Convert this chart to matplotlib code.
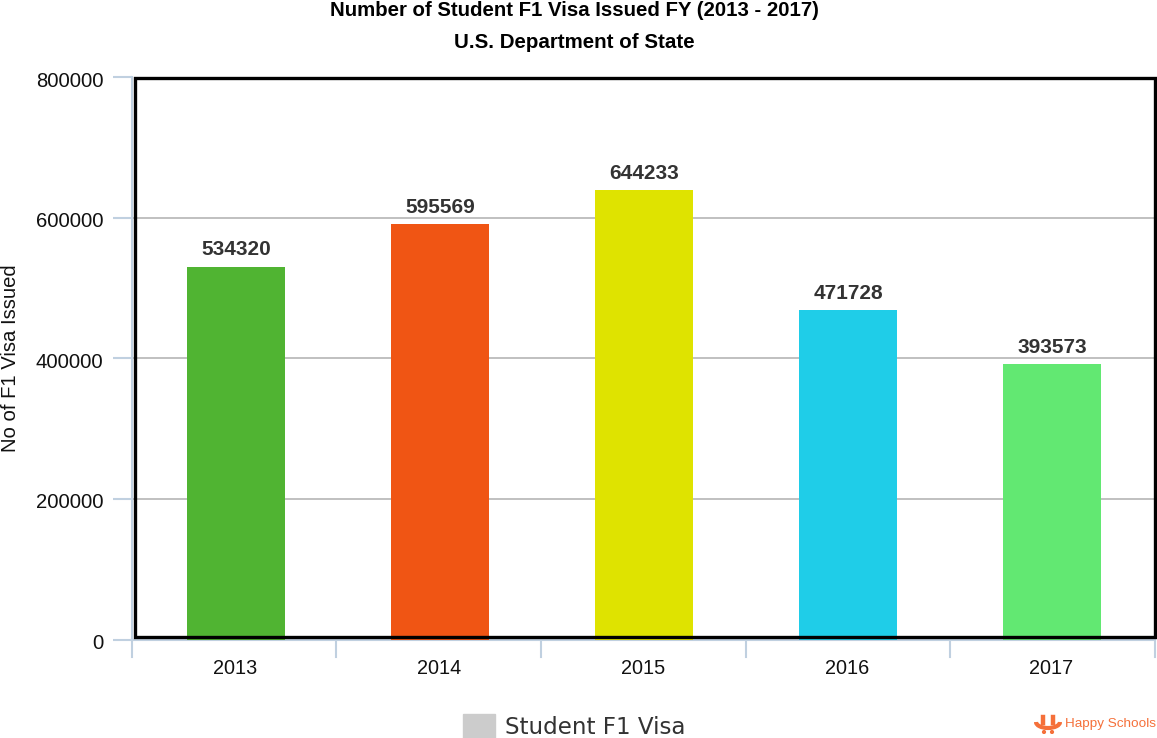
import matplotlib
matplotlib.use("Agg")
import matplotlib.pyplot as plt
from matplotlib.patches import Rectangle, Arc, Circle
from matplotlib.transforms import ScaledTranslation

plt.rcParams['font.family'] = ['Liberation Sans', 'DejaVu Sans']

# data
years = ['2013', '2014', '2015', '2016', '2017']
visas = [534320, 595569, 644233, 471728, 393573]
# the drawn bars sit a little under their printed numbers
bar_heights = [530960, 590750, 639150, 468330, 391460]
colors = ['#50b432', '#f05514', '#dfe300', '#1fcde8', '#62e872']
yticks = [0, 200000, 400000, 600000, 800000]
tick_edges = [-0.51, 0.49, 1.495, 2.50, 3.50, 4.505]

W, H = 1157, 738
grid_col = '#c0c0c0'
axis_col = '#c0d0e0'

fig = plt.figure(figsize=(W / 100, H / 100), dpi=100)
# axes box in pixels: x 132..1155, y 77.5..639.5
ax = fig.add_axes([132 / W, 1 - 639.5 / H, (1155 - 132) / W, 562 / H])

x = range(len(years))
ax.bar(x, bar_heights, width=0.48, color=colors, zorder=3)
ax.set_xlim(tick_edges[0], tick_edges[-1])
ax.set_ylim(0, 800000)

ax.set_yticks(yticks)
ax.set_yticklabels([str(t) for t in yticks], fontsize=14.6, color='#111111')
ax.set_xticks([i - 0.005 for i in x])
ax.set_xticklabels(years, fontsize=14.3, color='#111111')
ax.tick_params(axis='x', length=0, pad=14.4)
ax.tick_params(axis='y', length=13.5, width=1.5, color=axis_col, pad=7, direction='out')
ax.grid(axis='y', color=grid_col, linewidth=1.4, zorder=1)
ax.set_axisbelow(True)

# y labels hang a little below their ticks
shift = ScaledTranslation(0, -2 / 100, fig.dpi_scale_trans)
for lab in ax.get_yticklabels():
    lab.set_transform(lab.get_transform() + shift)

# x ticks sit on the category boundaries
for b in tick_edges:
    ax.plot([b, b], [0, -0.032], transform=ax.get_xaxis_transform(), color=axis_col,
            linewidth=1.5, clip_on=False, zorder=2)

for name, s in ax.spines.items():
    s.set_color(axis_col)
    s.set_linewidth(1.5)
ax.spines['top'].set_visible(False)
ax.spines['right'].set_visible(False)

# heavy black frame just inside the axis lines
fig.add_artist(Rectangle((134.5 / W, 1 - 637 / H), (1155 - 134.5) / W, (637 - 77.5) / H,
                         transform=fig.transFigure, fill=False, edgecolor='black',
                         linewidth=2.4, zorder=6))

for i, v in enumerate(visas):
    ax.annotate(str(v), (i, bar_heights[i]), xytext=(0, 5.5), textcoords='offset points',
                ha='center', va='bottom', fontsize=15, fontweight='bold', color='#333333')

fig.text(11 / W, 1 - 358 / H, 'No of F1 Visa Issued', rotation=90, ha='center', va='center',
         fontsize=14.6, color='#111111')

fig.text(574 / W, 1 - 10 / H, 'Number of Student F1 Visa Issued FY (2013 - 2017)', ha='center',
         va='center', fontsize=14.66, fontweight='bold', color='black')
fig.text(574 / W, 1 - 42 / H, 'U.S. Department of State', ha='center',
         va='center', fontsize=14.8, fontweight='bold', color='black')

# legend
fig.add_artist(Rectangle((463 / W, 1 - 738 / H), 32 / W, 24 / H, transform=fig.transFigure,
                         color='#cccccc'))
fig.text(505 / W, 1 - 727 / H, 'Student F1 Visa', ha='left', va='center', fontsize=16.6,
         family='DejaVu Sans', color='#333333')

# logo
logo = '#f5703a'
fig.text(1065 / W, 1 - 724 / H, 'Happy Schools', ha='left', va='center', fontsize=9.7, color=logo)
logo_ax = fig.add_axes([1034 / W, 1 - 734 / H, 28 / W, 20 / H])
logo_ax.set_xlim(0, 28)
logo_ax.set_ylim(20, 0)
logo_ax.axis('off')
logo_ax.add_patch(Arc((14, 8), 24, 12, theta1=0, theta2=180, color=logo, linewidth=3))
logo_ax.plot([9, 9], [3, 9], color=logo, linewidth=3.2)
logo_ax.plot([19, 19], [3, 9], color=logo, linewidth=3.2)
logo_ax.add_patch(Circle((10, 18), 1.4, color=logo))
logo_ax.add_patch(Circle((18, 18), 1.4, color=logo))

fig.savefig('out.png', dpi=100)
